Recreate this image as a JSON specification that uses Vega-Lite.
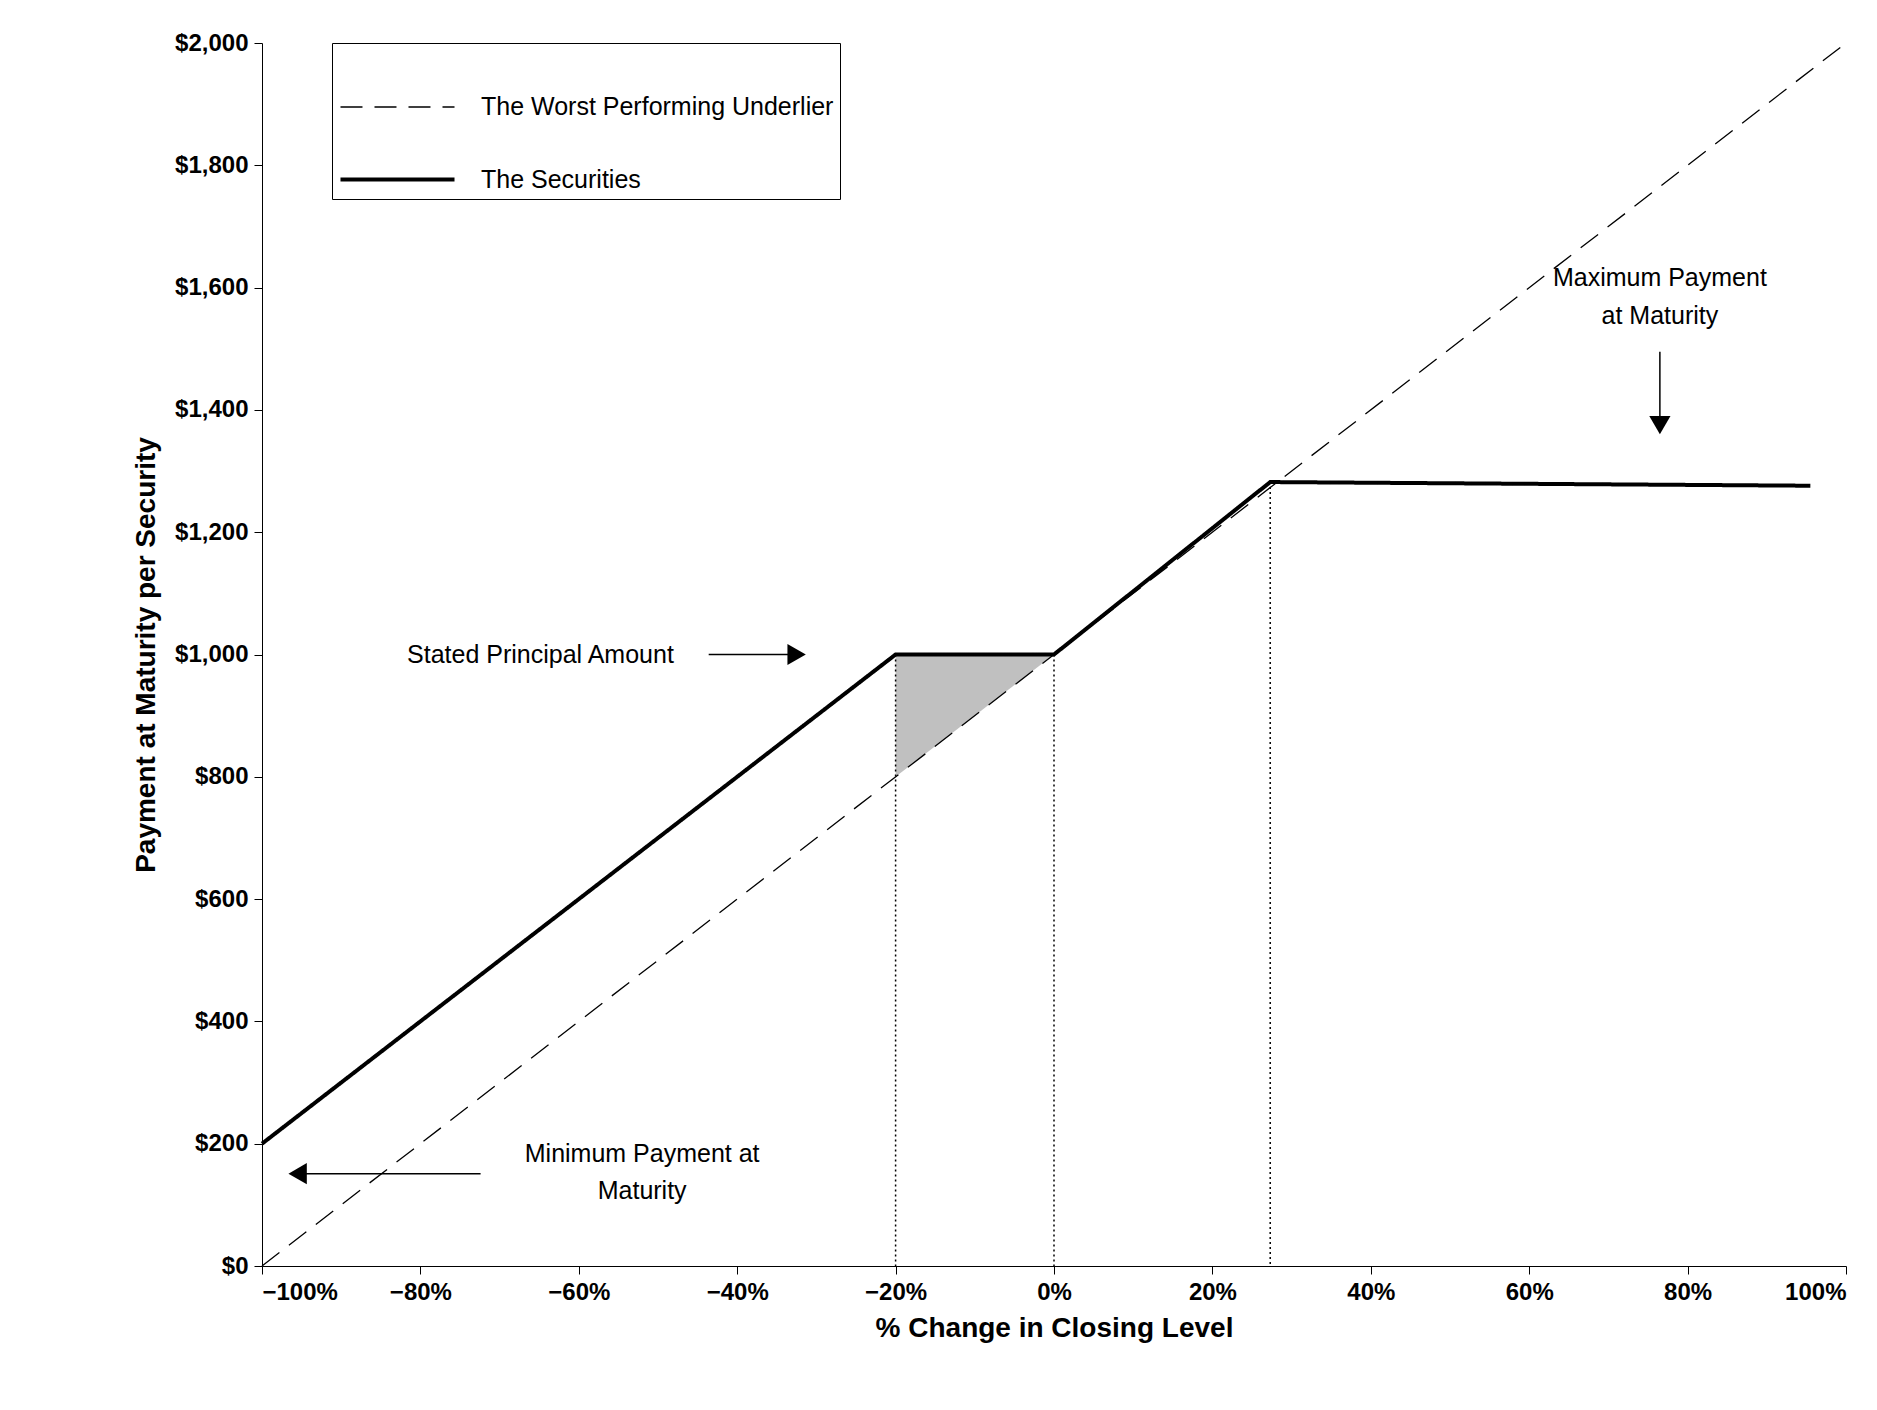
{
  "$schema": "https://vega.github.io/schema/vega-lite/v6.json",
  "width": 1584,
  "height": 1223,
  "autosize": {"type": "none"},
  "padding": {"left": 262, "top": 43, "right": 31, "bottom": 144},
  "background": "white",
  "config": {
    "view": {"stroke": null},
    "font": "Liberation Sans",
    "axis": {"grid": false, "domainColor": "black", "tickColor": "black", "labelColor": "black", "titleColor": "black", "labelFontSize": 24, "labelFontWeight": "bold", "titleFontSize": 28, "titleFont": "Liberation Sans", "titleFontWeight": "bold", "tickSize": 8, "labelPadding": 6}
  },
  "datasets": {
    "lines": [
      {"series": "The Worst Performing Underlier", "x": -100, "y": 0},
      {"series": "The Worst Performing Underlier", "x": 100, "y": 2000},
      {"series": "The Securities", "x": -100, "y": 200},
      {"series": "The Securities", "x": -20, "y": 1000},
      {"series": "The Securities", "x": 0, "y": 1000},
      {"series": "The Securities", "x": 27.3, "y": 1282},
      {"series": "The Securities", "x": 95.5, "y": 1276}
    ],
    "shade": [
      {"x": -20, "y": 800, "y2": 1000},
      {"x": 0, "y": 1000, "y2": 1000}
    ],
    "drops": [
      {"x": -20, "y": 1000},
      {"x": 0, "y": 1000},
      {"x": 27.3, "y": 1282}
    ],
    "arrows": [
      {"x": -43.6, "x2": -33, "y": 1000, "y2": 1000},
      {"x": -72.4, "x2": -95, "y": 151, "y2": 151},
      {"x": 76.5, "x2": 76.5, "y": 1495, "y2": 1380}
    ],
    "heads": [
      {"x": -32.5, "y": 1000, "shape": "triangle-right"},
      {"x": -95.5, "y": 151, "shape": "triangle-left"},
      {"x": 76.5, "y": 1375, "shape": "triangle-down"}
    ],
    "rlabels": [
      {"x": -48, "y": 1000, "text": "Stated Principal Amount"}
    ],
    "clabels": [
      {"x": -52, "y": 183, "text": "Minimum Payment at"},
      {"x": -52, "y": 122, "text": "Maturity"},
      {"x": 76.5, "y": 1615, "text": "Maximum Payment"},
      {"x": 76.5, "y": 1554, "text": "at Maturity"}
    ]
  },
  "encoding": {
    "x": {"field": "x", "type": "quantitative", "scale": {"domain": [-100, 100], "nice": false}, "axis": {"values": [-100, -80, -60, -40, -20, 0, 20, 40, 60, 80, 100], "labelExpr": "format(datum.value, 'd') + '%'", "title": "% Change in Closing Level", "titlePadding": 10}},
    "y": {"field": "y", "type": "quantitative", "scale": {"domain": [0, 2000], "nice": false}, "axis": {"values": [0, 200, 400, 600, 800, 1000, 1200, 1400, 1600, 1800, 2000], "labelExpr": "'$' + format(datum.value, ',')", "title": "Payment at Maturity per Security", "titlePadding": 14}}
  },
  "layer": [
    {
      "data": {"name": "shade"},
      "mark": {"type": "area", "color": "#c0c0c0"},
      "encoding": {"y2": {"field": "y2"}}
    },
    {
      "data": {"name": "drops"},
      "mark": {"type": "rule", "color": "black", "strokeWidth": 1.5, "strokeDash": [2, 3]},
      "encoding": {"y2": {"datum": 0}}
    },
    {
      "data": {"name": "lines"},
      "mark": {"type": "line", "color": "black"},
      "encoding": {
        "strokeDash": {"field": "series", "type": "nominal", "scale": {"domain": ["The Worst Performing Underlier", "The Securities"], "range": [[22, 12], [1, 0]]}, "legend": {"title": null, "orient": "none", "legendX": 70, "legendY": 0, "strokeColor": "black", "padding": 6, "labelFontSize": 25, "labelColor": "black", "labelLimit": 800, "symbolType": "stroke", "symbolSize": 13000, "symbolStrokeColor": "black", "rowPadding": -72, "labelOffset": 24, "offset": 0}},
        "strokeWidth": {"field": "series", "type": "nominal", "scale": {"domain": ["The Worst Performing Underlier", "The Securities"], "range": [1.3, 4]}, "legend": null}
      }
    },
    {
      "data": {"name": "arrows"},
      "mark": {"type": "rule", "color": "black", "strokeWidth": 1.5},
      "encoding": {"x2": {"field": "x2"}, "y2": {"field": "y2"}}
    },
    {
      "data": {"name": "heads"},
      "mark": {"type": "point", "filled": true, "color": "black", "opacity": 1, "size": 450},
      "encoding": {"shape": {"field": "shape", "type": "nominal", "scale": null}}
    },
    {
      "data": {"name": "rlabels"},
      "mark": {"type": "text", "fontSize": 25, "color": "black", "baseline": "middle", "align": "right"},
      "encoding": {"text": {"field": "text"}}
    },
    {
      "data": {"name": "clabels"},
      "mark": {"type": "text", "fontSize": 25, "color": "black", "baseline": "middle", "align": "center"},
      "encoding": {"text": {"field": "text"}}
    }
  ]
}
